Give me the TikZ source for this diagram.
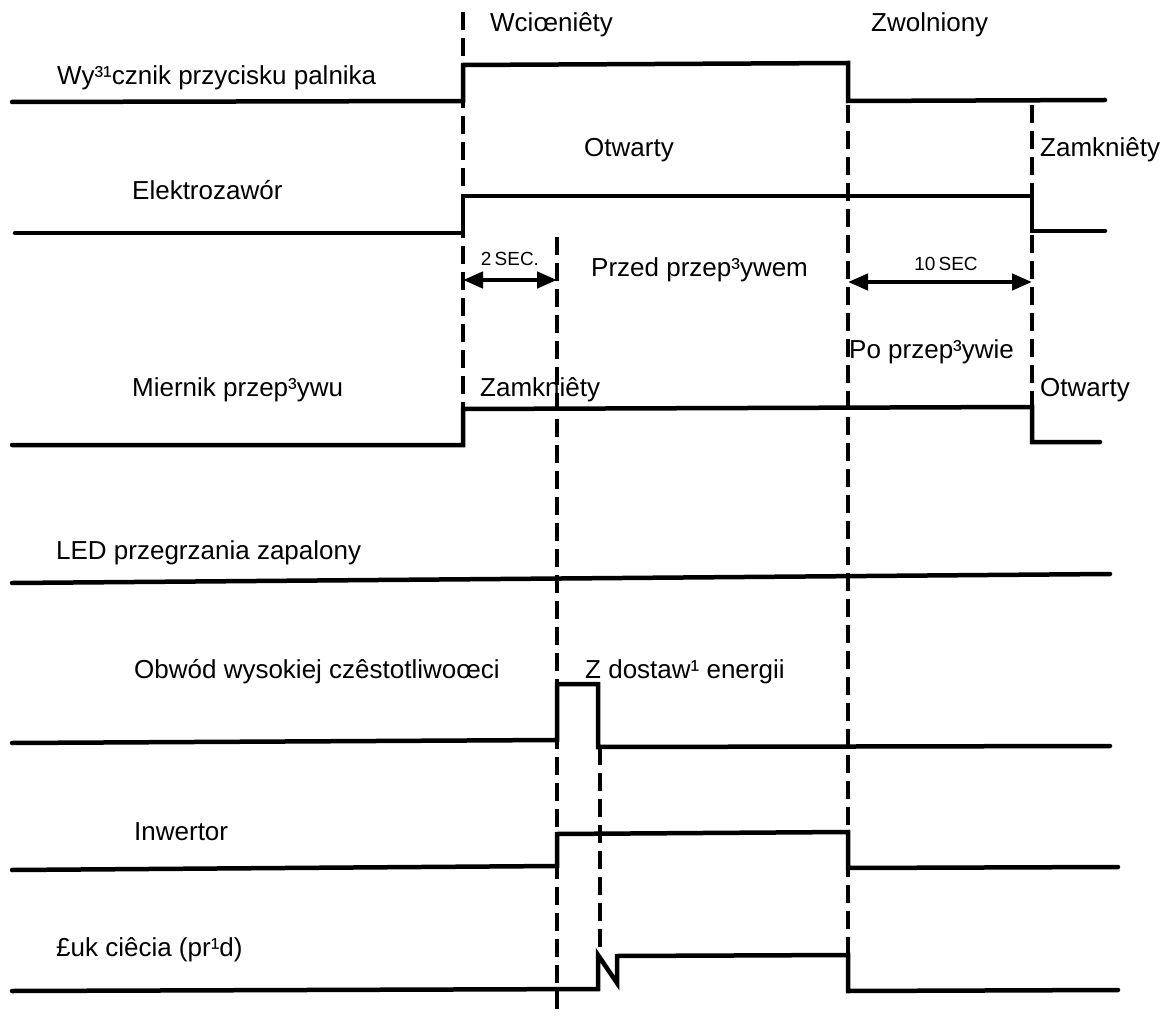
\documentclass[tikz,border=0pt]{standalone}
\usepackage{fontspec}
\setmainfont{Liberation Sans}
\usetikzlibrary{arrows.meta}
\tikzset{
  signal/.style={line width=4.5pt, line join=miter, line cap=round},
  marker/.style={line width=4.5pt, dash pattern=on 18pt off 8pt},
  dimline/.style={{Triangle[length=20pt,width=16pt]}-{Triangle[length=20pt,width=16pt]}, line width=4.5pt},
  lbl/.style={anchor=west, inner sep=0pt, font=\fontsize{26}{30}\selectfont},
  dimlbl/.style={inner sep=0pt, font=\fontsize{19}{22}\selectfont}
}
\begin{document}
\begin{tikzpicture}[x=1pt, y=-1pt]
  \useasboundingbox (0,0) rectangle (1165,1016);

  % Time markers
  \draw[marker] (463,12) -- (463,445);
  \draw[marker] (557,237) -- (557,1016);
  \draw[marker] (600,747) -- (600,955);
  \draw[marker] (848,105) -- (848,990);
  \draw[marker] (1032,105) -- (1032,440);

  % Signals
  \draw[signal] (12,102) -- (463,101) -- (463,65) -- (848,63) -- (848,101) -- (1105,100);
  \draw[signal] (15,233) -- (463,233) -- (463,196) -- (1032,196) -- (1032,231) -- (1105,231);
  \draw[signal] (12,445) -- (463,445) -- (463,409) -- (1032,407) -- (1032,442) -- (1100,442);
  \draw[signal] (12,583) -- (1110,574);
  \draw[signal] (12,743) -- (557,740) -- (557,684) -- (598,684) -- (598,747) -- (1110,746);
  \draw[signal] (12,870) -- (557,866) -- (557,834) -- (848,832) -- (848,868) -- (1118,867);
  \draw[signal] (12,991) -- (598,989) -- (598,955) -- (617,983) -- (617,956) -- (848,955) -- (848,991) -- (1118,990);

  % Delays
  \coordinate (onA) at (463,280);
  \coordinate (onB) at (557,280);
  \coordinate (offD) at (848,282);
  \coordinate (offE) at (1032,282);
  \draw[dimline] (onA) -- (onB);
  \draw[dimline] (offD) -- (offE);
  \node[dimlbl] (sec2) at (510,259) {2\,SEC.};
  \node[dimlbl] (sec10) at (946,264) {10\,SEC};

  % Labels
  \node[lbl] (pressed) at (490,25) {Wciœniêty};
  \node[lbl] (released) at (871,25) {Zwolniony};
  \node[lbl] (switch) at (57,78) {Wy³¹cznik przycisku palnika};
  \node[lbl] (open1) at (584,150) {Otwarty};
  \node[lbl] (closed1) at (1040,150) {Zamkniêty};
  \node[lbl] (valve) at (132,190) {Elektrozawór};
  \node[lbl] (preflow) at (591,270) {Przed przep³ywem};
  \node[lbl] (postflow) at (849,352) {Po przep³ywie};
  \node[lbl] (meter) at (132,390) {Miernik przep³ywu};
  \node[lbl] (closed2) at (480,390) {Zamkniêty};
  \node[lbl] (open2) at (1040,390) {Otwarty};
  \node[lbl] (led) at (56,553) {LED przegrzania zapalony};
  \node[lbl] (hf) at (134,672) {Obwód wysokiej czêstotliwoœci};
  \node[lbl] (supply) at (585,672) {Z dostaw¹ energii};
  \node[lbl] (inverter) at (134,832) {Inwertor};
  \node[lbl] (arc) at (56,950) {£uk ciêcia (pr¹d)};
\end{tikzpicture}
\end{document}
